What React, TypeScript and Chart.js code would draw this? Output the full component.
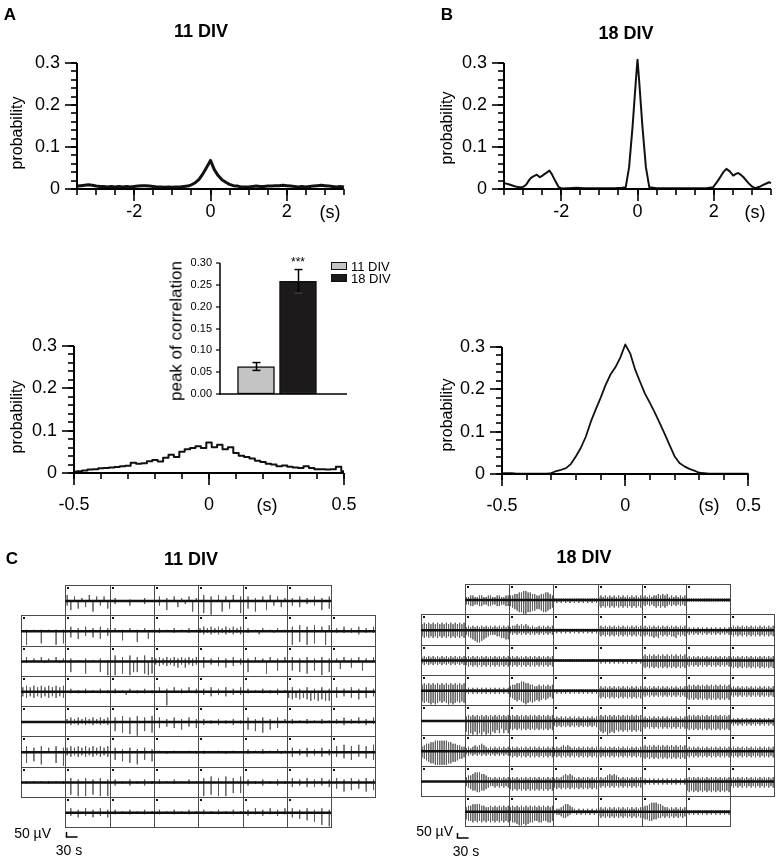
import React, { useEffect, useRef } from "react";
import { Chart, registerables } from "chart.js";

Chart.register(...registerables);

const FONT = "'Liberation Sans', Arial, Helvetica, sans-serif";
const PAGE_W = 782;
const PAGE_H = 861;

/* ---------- A/B top: cross-correlograms, lag -3.5..3.5 s ---------- */
const lag11Wide = [
  -3.5, -3.4, -3.3, -3.2, -3.1, -3.0, -2.9, -2.8, -2.7, -2.6,
  -2.5, -2.4, -2.3, -2.2, -2.1, -2.0, -1.9, -1.8, -1.7, -1.6,
  -1.5, -1.4, -1.3, -1.2, -1.1, -1.0, -0.9, -0.8, -0.7, -0.6,
  -0.5, -0.4, -0.3, -0.2, -0.1, 0.0, 0.1, 0.2, 0.3, 0.4,
  0.5, 0.6, 0.7, 0.8, 0.9, 1.0, 1.1, 1.2, 1.3, 1.4,
  1.5, 1.6, 1.7, 1.8, 1.9, 2.0, 2.1, 2.2, 2.3, 2.4,
  2.5, 2.6, 2.7, 2.8, 2.9, 3.0, 3.1, 3.2, 3.3, 3.4, 3.5,
];
const corr11Wide = [
  0.007, 0.008, 0.009, 0.010, 0.009, 0.007, 0.006, 0.006, 0.005, 0.006,
  0.005, 0.006, 0.005, 0.006, 0.005, 0.006, 0.007, 0.008, 0.008, 0.007,
  0.006, 0.005, 0.005, 0.004, 0.005, 0.004, 0.005, 0.005, 0.006, 0.007,
  0.010, 0.015, 0.023, 0.036, 0.052, 0.068, 0.046, 0.032, 0.022, 0.016,
  0.011, 0.008, 0.007, 0.005, 0.005, 0.005, 0.006, 0.007, 0.006, 0.006,
  0.007, 0.007, 0.008, 0.008, 0.009, 0.008, 0.007, 0.006, 0.005, 0.006,
  0.005, 0.006, 0.007, 0.008, 0.009, 0.008, 0.007, 0.006, 0.005, 0.006, 0.005,
];
const lag18Wide = [
  -3.5, -3.4, -3.3, -3.2, -3.1, -3.0, -2.92, -2.85, -2.8, -2.73,
  -2.64, -2.56, -2.5, -2.45, -2.38, -2.31, -2.25, -2.16, -2.07, -1.98,
  -1.8, -1.6, -1.4, -1.2, -1.0, -0.8, -0.6, -0.4, -0.31, -0.22,
  -0.13, -0.04, 0, 0.04, 0.13, 0.22, 0.31, 0.5, 0.8, 1.0,
  1.2, 1.4, 1.6, 1.8, 1.98, 2.11, 2.25, 2.33, 2.42, 2.51,
  2.58, 2.64, 2.72, 2.78, 2.91, 3.0, 3.08, 3.22, 3.35, 3.45, 3.5,
];
const corr18Wide = [
  0.014, 0.012, 0.009, 0.006, 0.004, 0.005, 0.010, 0.020, 0.026, 0.030,
  0.034, 0.028, 0.031, 0.035, 0.039, 0.044, 0.036, 0.020, 0.005, 0.001,
  0.002, 0.003, 0.002, 0.002, 0.002, 0.002, 0.002, 0.003, 0.004, 0.052,
  0.148, 0.262, 0.308, 0.262, 0.148, 0.052, 0.004, 0.002, 0.002, 0.002,
  0.002, 0.002, 0.002, 0.002, 0.004, 0.020, 0.040, 0.048, 0.042, 0.032,
  0.036, 0.038, 0.033, 0.028, 0.014, 0.006, 0.002, 0.006, 0.012, 0.016, 0.014,
];
const wideLagTicks = [-2, 0, 2];
const probTicks = [0, 0.1, 0.2, 0.3];

/* ---------- A/B bottom: cross-correlograms, lag -0.5..0.5 s ---------- */
const lagNarrow = [
  -0.5, -0.48, -0.46, -0.44, -0.42, -0.4, -0.38, -0.36, -0.34, -0.32,
  -0.3, -0.28, -0.26, -0.24, -0.22, -0.2, -0.18, -0.16, -0.14, -0.12,
  -0.1, -0.08, -0.06, -0.04, -0.02, 0, 0.02, 0.04, 0.06, 0.08,
  0.1, 0.12, 0.14, 0.16, 0.18, 0.2, 0.22, 0.24, 0.26, 0.28,
  0.3, 0.32, 0.34, 0.36, 0.38, 0.4, 0.42, 0.44, 0.46, 0.48, 0.5,
];
const corr11Narrow = [
  0.003, 0.004, 0.006, 0.008, 0.009, 0.011, 0.012, 0.013, 0.014, 0.016,
  0.017, 0.024, 0.022, 0.023, 0.028, 0.031, 0.027, 0.036, 0.043, 0.038,
  0.050, 0.056, 0.059, 0.063, 0.059, 0.072, 0.061, 0.067, 0.056, 0.061,
  0.047, 0.041, 0.038, 0.034, 0.029, 0.026, 0.022, 0.020, 0.016, 0.018,
  0.015, 0.013, 0.012, 0.016, 0.012, 0.009, 0.009, 0.008, 0.009, 0.015, 0.004,
];
const corr18Narrow = [
  0.002, 0.002, 0.002, 0.001, 0.001, 0.001, 0.001, 0.001, 0.001, 0.001,
  0.002, 0.007, 0.010, 0.014, 0.024, 0.042, 0.062, 0.088, 0.123, 0.152,
  0.180, 0.210, 0.235, 0.252, 0.275, 0.306, 0.285, 0.247, 0.218, 0.190,
  0.168, 0.145, 0.120, 0.095, 0.068, 0.042, 0.026, 0.018, 0.012, 0.008,
  0.003, 0.002, 0.001, 0.001, 0.001, 0.001, 0.001, 0.001, 0.001, 0.001, 0.001,
];
const narrowLagTicks = [-0.5, 0, 0.5];

/* ---------- inset: peak of correlation ---------- */
const peakGroups = ["11 DIV", "18 DIV"];
const peakMean = [0.063, 0.258];
const peakSem = [0.009, 0.027];
const peakColors = ["#c4c4c4", "#1c1a1a"];
const peakTicks = [0, 0.05, 0.1, 0.15, 0.2, 0.25, 0.3];

/* ---------- C: 8x8 MEA recordings (spike depth / height per time slot) ---------- */
const meaCellSeconds = 120;
const meaRowMicroV = 300;
const meaDigitMicroV = 15;
const scaleBarMicroV = 50;
const scaleBarSeconds = 30;

const mea11Down = [
  "- 360504070305 020003000200 030600402070 080900705008 050700603040 030402030605 -",
  "090008000908 040503040503 000600070050 010001000100 121212121212 010020001000 090709080090 010101020101",
  "010000100010 070008000709 090809770898 232323424232 040203040302 070000800600 060708060907 005004006000",
  "343434343434 010101000101 010020010101 000900010001 020302030202 010001010200 454545656566 040304050403",
  "000000000000 121212121212 060708090607 040304050304 020102010201 050607050400 010001000100 010201010201",
  "070608000709 232323232323 050607080506 000100000001 010000010000 010001000010 030203020302 030405030405",
  "010000010001 080909080909 020102010201 010001000100 090809090707 020102010201 030203030203 040605040605",
  "- 020302030203 010001000100 010001000100 010001000100 020102010201 030405060809 -",
];
const mea11Up = [
  "- 403020403030 020001000200 030203020302 040304030403 030203040302 020302030203 -",
  "010101010101 030203020302 020102010201 020102010201 232323232323 020102010201 030403040304 020302030203",
  "030203020302 020102010201 040304030403 232323232323 030203020302 020302030203 030203020302 020302030203",
  "343434343434 020102010201 020102010201 030203020302 020302030203 020102010201 030203020302 030203020302",
  "000000000000 232323232323 030403040304 030203020302 020102010201 030203020302 020102010201 020302030203",
  "040304030403 343434343434 030203020302 010001000100 010001000100 020102010201 030203020302 040504050405",
  "010101010101 030203020302 020102010201 020102010201 030403040304 020102010201 030203020302 030203020302",
  "- 030203020302 020102010201 020102010201 020102010201 020302030203 030203020302 -",
];
const mea18Down = [
  "- 33443344334433443344 45678899887766788765 12121212121212121212 45454545454545454545 34343454545434343434 11111111111111111111 -",
  "45454545454545454545 34567887654333445566 23232323232323232323 12121212121212121212 34343434343434343434 34344545343434453434 23232323232323232323 34343434343434343434",
  "23232323232323232323 34343434343434343434 34343434343434343434 11111111111111111111 12121212121212121212 45454545454545454545 34343434343434343434 45454545454545454545",
  "78789898787898987878 12121212121212121212 45676789878767656545 12121212121212121212 45454545454545454545 34343434343434343434 56565656565656565656 34343434343434343434",
  "00000000000000000000 79897989798978685868 56565656565656565656 34343434343434343434 67879878676767676767 45454545454545454545 56565656565656565656 23232323232323232323",
  "45678899999988776554 23232323232323232323 34343434343434343434 34343434343434343434 34343434343434343434 45454545454545454545 34343434343434343434 34343434343434343434",
  "00000000000000000000 34566776654334343434 56565656565656565656 45454545454545454545 34343434343434343434 12121212121212121212 67676767676767676767 34343434343434343434",
  "- 56676767676767676767 67789989877667766776 12234432112121212121 34343434343434343434 45566554434343434343 12121212121212121212 -",
];
const mea18Up = [
  "- 22332233223322332233 33445566554433445543 11111111111111111111 23232323232323232323 23232334343423232323 11111111111111111111 -",
  "45454545454545454545 23232323232323232323 23343434323223232323 11111111111111111111 23232323232323232323 23232323232323232323 12121212121212121212 23232323232323232323",
  "23232323232323232323 23232323232323232323 23232323232323232323 11111111111111111111 11111111111111111111 34343434343434343434 23232323232323232323 23232323232323232323",
  "45454545454545454545 12121212121212121212 34455665544334343434 11111111111111111111 23232323232323232323 23232323232323232323 34343434343434343434 23232323232323232323",
  "00000000000000000000 34343434343434343434 34343434343434343434 23232323232323232323 34343434343434343434 23232323232323232323 34343434343434343434 12121212121212121212",
  "34556677777766554433 23234345432323232323 23232323232323232323 23234343232323232323 23232323232323232323 34343434343434343434 23232323232323232323 23232323232323232323",
  "00000000000000000000 34456665543323232323 23232323232323232323 23234545432323232323 23234545432323232323 12121212121212121212 23232323232323232323 23232323232323232323",
  "- 34455554433434343434 34343434343434343434 12234554321212121212 23232323232323232323 34456665543323232323 11111111111111111111 -",
];

/* ---------- helpers ---------- */
type Area = { l: number; t: number; r: number; b: number };
const Y_BOX = 60; // width reserved for y tick labels
const X_BOX = 50; // height reserved for x tick labels

function pad(a: Area, yBox: number, xBox: number) {
  return { left: a.l - yBox, top: a.t, right: PAGE_W - a.r, bottom: PAGE_H - a.b - xBox };
}

function seg(ctx: CanvasRenderingContext2D, x1: number, y1: number, x2: number, y2: number) {
  ctx.beginPath();
  ctx.moveTo(x1, y1);
  ctx.lineTo(x2, y2);
  ctx.stroke();
}

function stepValues(min: number, max: number, step: number) {
  const n = Math.round((max - min) / step);
  const out: number[] = [];
  for (let i = 0; i <= n; i++) out.push(min + i * step);
  return out;
}

function axisPlugin(cfg: {
  xMajor: number[]; xMinorStep: number; yMajor: number[]; yMinorStep: number;
  majorLen: number; minorLen: number; axisWidth: number; tickWidth: number;
}) {
  return {
    id: "axisMarks",
    afterDatasetsDraw(chart: any) {
      const { ctx, chartArea: a } = chart;
      const xs = chart.scales.x;
      const ys = chart.scales.y;
      ctx.save();
      ctx.strokeStyle = "#000";
      ctx.lineCap = "butt";
      ctx.lineWidth = cfg.tickWidth;
      if (cfg.xMinorStep) {
        for (const v of stepValues(xs.min, xs.max, cfg.xMinorStep)) {
          const p = Math.round(xs.getPixelForValue(v));
          seg(ctx, p, a.bottom, p, a.bottom + cfg.minorLen);
        }
      }
      for (const v of cfg.xMajor) {
        const p = Math.round(xs.getPixelForValue(v));
        seg(ctx, p, a.bottom, p, a.bottom + cfg.majorLen);
      }
      if (cfg.yMinorStep) {
        for (const v of stepValues(ys.min, ys.max, cfg.yMinorStep)) {
          const p = Math.round(ys.getPixelForValue(v));
          seg(ctx, a.left, p, a.left - cfg.minorLen, p);
        }
      }
      for (const v of cfg.yMajor) {
        const p = Math.round(ys.getPixelForValue(v));
        seg(ctx, a.left, p, a.left - cfg.majorLen, p);
      }
      ctx.lineWidth = cfg.axisWidth;
      seg(ctx, a.left, a.top, a.left, a.bottom + cfg.axisWidth / 2);
      seg(ctx, a.left - cfg.axisWidth / 2, a.bottom, a.right, a.bottom);
      ctx.restore();
    },
  };
}

function corrChart(canvas: HTMLCanvasElement, c: {
  area: Area; xs: number[]; ys: number[]; xMin: number; xMax: number;
  xTicks: number[]; xMinorStep: number; lineWidth: number; stepped?: any; xPad: number;
}) {
  return new Chart(canvas, {
    type: "line",
    data: {
      datasets: [
        {
          data: c.xs.map((x, i) => ({ x, y: c.ys[i] })),
          borderColor: "#111",
          borderWidth: c.lineWidth,
          pointRadius: 0,
          tension: 0,
          stepped: c.stepped || false,
          clip: false,
          borderJoinStyle: "round",
        } as any,
      ],
    },
    options: {
      responsive: false,
      animation: false,
      devicePixelRatio: 1,
      events: [],
      layout: { padding: pad(c.area, Y_BOX, X_BOX) },
      plugins: { legend: { display: false }, tooltip: { enabled: false }, title: { display: false } },
      scales: {
        x: {
          type: "linear",
          min: c.xMin,
          max: c.xMax,
          grid: { display: false, drawTicks: false },
          border: { display: false },
          afterBuildTicks: (s: any) => { s.ticks = c.xTicks.map((v) => ({ value: v })); },
          afterFit: (s: any) => { s.height = X_BOX; },
          ticks: {
            padding: c.xPad, color: "#000", autoSkip: false, maxRotation: 0, minRotation: 0,
            font: { family: FONT, size: 18 }, callback: (v: any) => String(v),
          },
        },
        y: {
          type: "linear",
          min: 0,
          max: 0.3,
          grid: { display: false, drawTicks: false },
          border: { display: false },
          afterBuildTicks: (s: any) => { s.ticks = probTicks.map((v) => ({ value: v })); },
          afterFit: (s: any) => { s.width = Y_BOX; },
          ticks: {
            padding: 17, color: "#000", autoSkip: false,
            font: { family: FONT, size: 18 }, callback: (v: any) => String(v),
          },
        },
      },
    } as any,
    plugins: [
      axisPlugin({
        xMajor: c.xTicks, xMinorStep: c.xMinorStep, yMajor: probTicks, yMinorStep: 0.02,
        majorLen: 12, minorLen: 6, axisWidth: 2, tickWidth: 1.6,
      }) as any,
    ],
  });
}

function peakChart(canvas: HTMLCanvasElement) {
  const area: Area = { l: 220, t: 263, r: 347, b: 394 };
  const errPlugin = {
    id: "errBars",
    afterDatasetsDraw(chart: any) {
      const { ctx } = chart;
      const xs = chart.scales.x;
      const ys = chart.scales.y;
      ctx.save();
      ctx.lineWidth = 1.5;
      peakMean.forEach((m, i) => {
        const x = Math.round(xs.getPixelForValue(i + 1)) + 0.5;
        const yt = ys.getPixelForValue(m + peakSem[i]);
        const yb = ys.getPixelForValue(m - peakSem[i]);
        ctx.strokeStyle = "#000";
        seg(ctx, x, yt, x, yb);
        seg(ctx, x - 4, yt, x + 4, yt);
        ctx.strokeStyle = i === 1 ? "#3a3a3a" : "#000";
        seg(ctx, x - 4, yb, x + 4, yb);
      });
      ctx.restore();
    },
  };
  return new Chart(canvas, {
    type: "bar",
    data: {
      labels: peakGroups,
      datasets: [
        {
          data: peakMean.map((m, i) => ({ x: i + 1, y: m })),
          backgroundColor: peakColors,
          borderColor: "#111",
          borderWidth: 1.5,
          borderSkipped: false,
          barThickness: 37,
        } as any,
      ],
    },
    options: {
      responsive: false,
      animation: false,
      devicePixelRatio: 1,
      events: [],
      layout: { padding: pad(area, 45, 0) },
      plugins: { legend: { display: false }, tooltip: { enabled: false } },
      scales: {
        x: { type: "linear", min: 0.143, max: 3.167, offset: false, display: false },
        y: {
          type: "linear",
          min: 0,
          max: 0.3,
          grid: { display: false, drawTicks: false },
          border: { display: false },
          afterBuildTicks: (s: any) => { s.ticks = peakTicks.map((v) => ({ value: v })); },
          afterFit: (s: any) => { s.width = 45; },
          ticks: {
            padding: 8, color: "#000", autoSkip: false,
            font: { family: FONT, size: 11 }, callback: (v: any) => Number(v).toFixed(2),
          },
        },
      },
    } as any,
    plugins: [
      axisPlugin({
        xMajor: [], xMinorStep: 0, yMajor: peakTicks, yMinorStep: 0,
        majorLen: 4, minorLen: 0, axisWidth: 1.5, tickWidth: 1.2,
      }) as any,
      errPlugin as any,
    ],
  });
}

function meaChart(canvas: HTMLCanvasElement, down: string[], up: string[], area: Area, bar: { dx: number; dy: number }) {
  const T = meaCellSeconds;
  const R = meaRowMicroV;
  const downCells = down.map((r) => r.split(" "));
  const upCells = up.map((r) => r.split(" "));
  const nRows = downCells.length;
  const nCols = 8;
  const baseSets: any[] = [];
  const spikeSets: any[] = [];
  downCells.forEach((row, r) => {
    const base = r * R + R * 0.53;
    const pts: any[] = [];
    let first = -1;
    let last = -1;
    row.forEach((cell, c) => {
      if (cell === "-") {
        pts.push({ x: c * T + T / 2, y: null });
        return;
      }
      if (first < 0) first = c;
      last = c;
      const upCell = upCells[r][c];
      const n = cell.length;
      pts.push({ x: c * T, y: base });
      for (let i = 0; i < n; i++) {
        const d = Number(cell[i]);
        const u = Number(upCell[i]);
        if (!d && !u) continue;
        const x = c * T + ((i + 0.5) * T) / n;
        pts.push({ x, y: base });
        pts.push({ x, y: base - u * meaDigitMicroV });
        pts.push({ x, y: base + d * meaDigitMicroV });
        pts.push({ x, y: base });
      }
      pts.push({ x: (c + 1) * T, y: base });
    });
    spikeSets.push({
      data: pts, borderColor: "#5a5a5a", borderWidth: 1, pointRadius: 0, spanGaps: false, clip: false, order: 2,
    });
    baseSets.push({
      data: [{ x: first * T, y: base }, { x: (last + 1) * T, y: base }],
      borderColor: "#111", borderWidth: 2.6, pointRadius: 0, clip: false, order: 1,
    });
  });

  const gridPlugin = {
    id: "meaGrid",
    beforeDatasetsDraw(chart: any) {
      const { ctx } = chart;
      const xs = chart.scales.x;
      const ys = chart.scales.y;
      ctx.save();
      ctx.strokeStyle = "#4a4a4a";
      ctx.lineWidth = 1;
      ctx.fillStyle = "#111";
      downCells.forEach((row, r) => {
        row.forEach((cell, c) => {
          if (cell === "-") return;
          const x1 = Math.round(xs.getPixelForValue(c * T));
          const x2 = Math.round(xs.getPixelForValue((c + 1) * T));
          const y1 = Math.round(ys.getPixelForValue(r * R));
          const y2 = Math.round(ys.getPixelForValue((r + 1) * R));
          ctx.strokeRect(x1 + 0.5, y1 + 0.5, x2 - x1, y2 - y1);
          ctx.fillRect(x1 + 2, y1 + 2, 2, 2);
        });
      });
      ctx.restore();
    },
    afterDraw(chart: any) {
      const { ctx, chartArea: a } = chart;
      const xs = chart.scales.x;
      const ys = chart.scales.y;
      const h = Math.abs(ys.getPixelForValue(scaleBarMicroV) - ys.getPixelForValue(0));
      const w = Math.abs(xs.getPixelForValue(scaleBarSeconds) - xs.getPixelForValue(0));
      const x0 = Math.round(a.left + bar.dx) + 0.5;
      const y0 = Math.round(a.bottom + bar.dy);
      ctx.save();
      ctx.strokeStyle = "#000";
      ctx.lineWidth = 1.5;
      seg(ctx, x0, y0, x0, y0 - h);
      seg(ctx, x0 - 0.75, y0, x0 + w, y0);
      ctx.restore();
    },
  };

  return new Chart(canvas, {
    type: "line",
    data: { datasets: [...baseSets, ...spikeSets] },
    options: {
      responsive: false,
      animation: false,
      devicePixelRatio: 1,
      events: [],
      layout: { padding: pad(area, 0, 0) },
      plugins: { legend: { display: false }, tooltip: { enabled: false } },
      scales: {
        x: { type: "linear", min: 0, max: nCols * T, display: false },
        y: { type: "linear", min: 0, max: nRows * R, reverse: true, display: false },
      },
    } as any,
    plugins: [gridPlugin as any],
  });
}

/* ---------- text ---------- */
function Txt(p: { x: number; y: number; s: string; size: number; bold?: boolean; rot?: boolean; align?: "left" | "right" | "center" }) {
  const tx = p.align === "left" ? "0" : p.align === "right" ? "-100%" : "-50%";
  return (
    <div
      style={{
        position: "absolute",
        left: p.x,
        top: p.y,
        transform: `translate(${tx}, -50%)${p.rot ? " rotate(-90deg)" : ""}`,
        fontFamily: FONT,
        fontSize: p.size,
        fontWeight: p.bold ? 700 : 400,
        lineHeight: 1,
        whiteSpace: "nowrap",
        color: "#000",
      }}
    >
      {p.s}
    </div>
  );
}

export default function App() {
  const canvases = useRef<(HTMLCanvasElement | null)[]>([]);

  useEffect(() => {
    const cv = canvases.current;
    const charts: Chart[] = [];
    charts.push(meaChart(cv[0]!, mea11Down, mea11Up, { l: 21, t: 585, r: 375.4, b: 827 }, { dx: 45, dy: 10 }));
    charts.push(meaChart(cv[1]!, mea18Down, mea18Up, { l: 421, t: 584, r: 774.3, b: 826 }, { dx: 36, dy: 12 }));
    charts.push(corrChart(cv[2]!, {
      area: { l: 77, t: 63, r: 344, b: 189 }, xs: lag11Wide, ys: corr11Wide, xMin: -3.5, xMax: 3.5,
      xTicks: wideLagTicks, xMinorStep: 0.5, lineWidth: 3, xPad: 12,
    }));
    charts.push(corrChart(cv[3]!, {
      area: { l: 504, t: 63, r: 771, b: 189 }, xs: lag18Wide, ys: corr18Wide, xMin: -3.5, xMax: 3.5,
      xTicks: wideLagTicks, xMinorStep: 0.5, lineWidth: 2, xPad: 12,
    }));
    charts.push(corrChart(cv[4]!, {
      area: { l: 74, t: 346, r: 344, b: 473 }, xs: lagNarrow, ys: corr11Narrow, xMin: -0.5, xMax: 0.5,
      xTicks: narrowLagTicks, xMinorStep: 0.1, lineWidth: 2, stepped: "middle", xPad: 21,
    }));
    charts.push(corrChart(cv[5]!, {
      area: { l: 502, t: 347, r: 770, b: 474 }, xs: lagNarrow, ys: corr18Narrow, xMin: -0.5, xMax: 0.5,
      xTicks: narrowLagTicks, xMinorStep: 0.1, lineWidth: 1.8, xPad: 21,
    }));
    charts.push(peakChart(cv[6]!));
    return () => charts.forEach((c) => c.destroy());
  }, []);

  return (
    <div
      style={{
        position: "absolute",
        left: 0,
        top: 0,
        width: PAGE_W,
        height: PAGE_H,
        background: "#fff",
        overflow: "hidden",
      }}
    >
      {[0, 1, 2, 3, 4, 5, 6].map((i) => (
        <canvas
          key={i}
          ref={(el) => { canvases.current[i] = el; }}
          width={PAGE_W}
          height={PAGE_H}
          style={{ position: "absolute", left: 0, top: 0, width: PAGE_W, height: PAGE_H }}
        />
      ))}
      <Txt x={10} y={14} s="A" size={17} bold />
      <Txt x={447} y={14} s="B" size={17} bold />
      <Txt x={12} y={558} s="C" size={17} bold />
      <Txt x={201} y={31} s="11 DIV" size={18} bold />
      <Txt x={626} y={33} s="18 DIV" size={18} bold />
      <Txt x={191} y={559} s="11 DIV" size={18} bold />
      <Txt x={584} y={557} s="18 DIV" size={18} bold />
      <Txt x={17} y={133} s="probability" size={16} rot />
      <Txt x={447} y={128} s="probability" size={16} rot />
      <Txt x={17} y={417} s="probability" size={16} rot />
      <Txt x={447} y={415} s="probability" size={16} rot />
      <Txt x={330} y={212} s="(s)" size={18} />
      <Txt x={755} y={212} s="(s)" size={18} />
      <Txt x={267} y={505} s="(s)" size={18} />
      <Txt x={709} y={505} s="(s)" size={18} />
      <Txt x={176} y={331} s="peak of correlation" size={17} rot />
      <Txt x={298} y={262} s="***" size={12} />
      <div style={{ position: "absolute", left: 331, top: 262, width: 14, height: 6, background: peakColors[0], border: "1.5px solid #111" }} />
      <div style={{ position: "absolute", left: 331, top: 274, width: 14, height: 6, background: peakColors[1], border: "1.5px solid #111" }} />
      <Txt x={351} y={266} s={peakGroups[0]} size={13} align="left" />
      <Txt x={351} y={278} s={peakGroups[1]} size={13} align="left" />
      <Txt x={51} y={833} s={"50 \u00B5V"} size={14} align="right" />
      <Txt x={69} y={850} s="30 s" size={14} />
      <Txt x={453} y={831} s={"50 \u00B5V"} size={14} align="right" />
      <Txt x={466} y={851} s="30 s" size={14} />
    </div>
  );
}
